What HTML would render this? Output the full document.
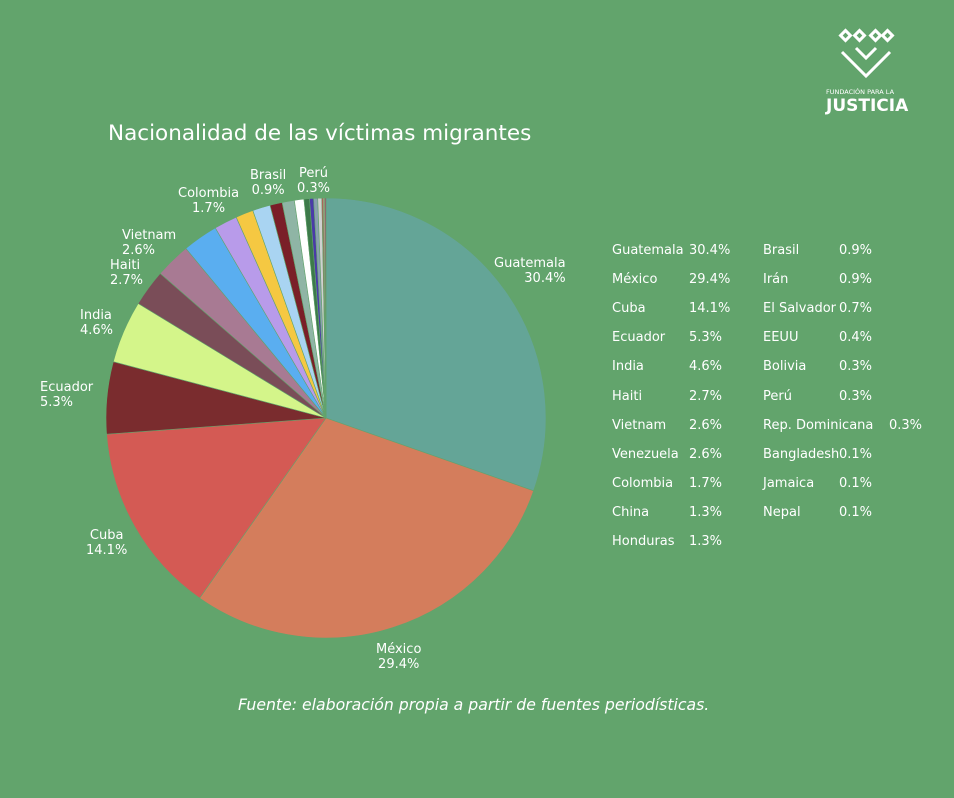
<!DOCTYPE html><html><head><meta charset="utf-8"><style>
body{margin:0;width:954px;height:798px;background:#62a46c;font-family:"DejaVu Sans",sans-serif;color:#fff;position:relative;overflow:hidden}
.t{position:absolute;white-space:nowrap}
.lg{position:absolute;font-size:13px;white-space:nowrap}
</style></head><body>
<div class="t" style="left:108px;top:121px;font-size:21.5px">Nacionalidad de las víctimas migrantes</div>
<svg width="954" height="798" style="position:absolute;left:0;top:0" id="s"></svg>
<div class="t" style="left:238px;top:695px;font-size:15.7px;font-style:italic">Fuente: elaboración propia a partir de fuentes periodísticas.</div>
<div class="t" style="left:826px;top:88px;font-size:6.5px">FUNDACIÓN PARA LA</div>
<div class="t" style="left:826px;top:96px;font-size:17px;font-weight:bold">JUSTICIA</div>
<div id="lab"></div><div id="leg"></div>
<script>
var d=[["Guatemala",30.4,"#64a597"],["México",29.4,"#d47d5c"],["Cuba",14.1,"#d45a54"],["Ecuador",5.3,"#7a2c2e"],["India",4.6,"#d4f58a"],["Haiti",2.7,"#7a4d58"],["Vietnam",2.6,"#a87a93"],["Venezuela",2.6,"#5aaef0"],["Colombia",1.7,"#b89bea"],["China",1.3,"#f5c842"],["Honduras",1.3,"#a9d4f2"],["Brasil",0.9,"#7a1f28"],["Irán",0.9,"#8fb5a5"],["El Salvador",0.7,"#ffffff"],["EEUU",0.4,"#3d7a4a"],["Bolivia",0.3,"#4a3aa8"],["Perú",0.3,"#8aa0b0"],["Rep. Dominicana",0.3,"#d0d0d0"],["Bangladesh",0.1,"#c05050"],["Jamaica",0.1,"#e09090"],["Nepal",0.1,"#a05070"]];
var tot=0;d.forEach(function(x){tot+=x[1]});
var cx=326,cy=418,r=220,a=0,h="";
d.forEach(function(x){var a2=a+x[1]/tot*2*Math.PI;
var x1=cx+r*Math.sin(a),y1=cy-r*Math.cos(a),x2=cx+r*Math.sin(a2),y2=cy-r*Math.cos(a2);
h+='<path d="M'+cx+','+cy+'L'+x1+','+y1+'A'+r+','+r+' 0 '+(a2-a>Math.PI?1:0)+' 1 '+x2+','+y2+'Z" fill="'+x[2]+'" stroke="#62a46c" stroke-width="0.6"/>';a=a2;});
document.getElementById('s').innerHTML=h;
var L=[["Guatemala<br>30.4%",494,256,"right"],["México<br>29.4%",376,642,"center"],["Cuba<br>14.1%",86,528,"center"],["Ecuador<br>5.3%",40,380,"left"],["India<br>4.6%",80,308,"left"],["Haiti<br>2.7%",110,258,"left"],["Vietnam<br>2.6%",122,228,"left"],["Colombia<br>1.7%",178,186,"center"],["Brasil<br>0.9%",250,168,"center"],["Perú<br>0.3%",297,166,"center"]];
var s="";L.forEach(function(l){s+='<div class="t" style="left:'+l[1]+'px;top:'+l[2]+'px;font-size:13px;line-height:15px;text-align:'+l[3]+'">'+l[0]+'</div>'});
document.getElementById('lab').innerHTML=s;
var g="";d.forEach(function(x,i){var c=i<11?0:1,row=c?i-11:i,y=243+row*29.1;
var xl=c?763:612,xv=c?839:689;if(x[0]=="Rep. Dominicana")xv=889;
g+='<div class="lg" style="left:'+xl+'px;top:'+y+'px">'+x[0]+'</div><div class="lg" style="left:'+xv+'px;top:'+y+'px">'+x[1].toFixed(1)+'%</div>';});
document.getElementById('leg').innerHTML=g;
</script>
<svg width="60" height="60" style="position:absolute;left:836px;top:28px" viewBox="0 0 60 60" fill="none" stroke="#fff" stroke-width="3">
<rect x="6" y="4" width="7" height="7" transform="rotate(45 9.5 7.5)"/><rect x="20" y="4" width="7" height="7" transform="rotate(45 23.5 7.5)"/><rect x="36" y="4" width="7" height="7" transform="rotate(45 39.5 7.5)"/><rect x="48" y="4" width="7" height="7" transform="rotate(45 51.5 7.5)"/>
<path d="M6 24L30 48L54 24M12 30L30 48L48 30M18 36L30 48L42 36M20 20L30 30L40 20"/></svg>
</body></html>
